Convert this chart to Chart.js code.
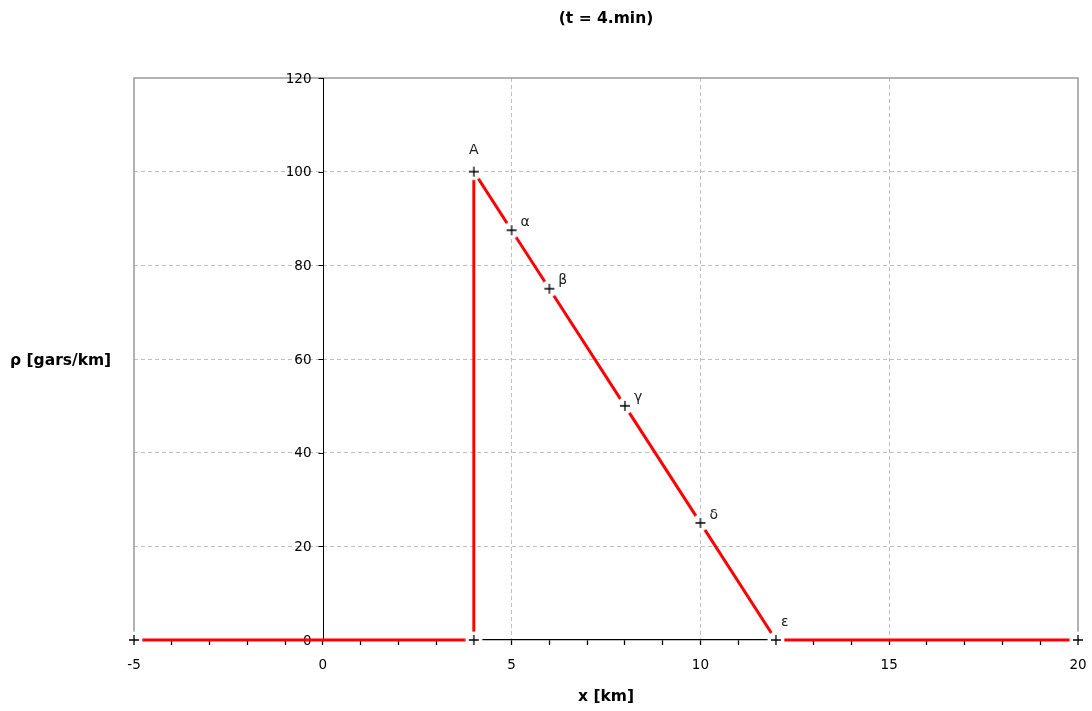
<!DOCTYPE html>
<html>
<head>
<meta charset="utf-8">
<script src="https://cdn.jsdelivr.net/npm/chart.js@4/dist/chart.umd.min.js"></script>
<style>
  html, body { margin: 0; padding: 0; background: #fff; }
  #wrap { width: 1092px; height: 711px; }
</style>
</head>
<body>
<div id="wrap"><canvas id="myChart"></canvas></div>
<script>
// perfil de densidad a t = 4 min
const puntosX = [-5, 4, 4, 5, 6, 8, 10, 12, 20];
const puntosRho = [0, 0, 100, 87.5, 75, 50, 25, 0, 0];
const etiquetas = ['', '', 'A', 'α', 'β', 'γ', 'δ', 'ε', ''];
const ticksY = [0, 20, 40, 60, 80, 100, 120];
const titulo = '(t = 4.min)';
const tituloX = 'x [km]';
const tituloY = 'ρ [gars/km]';

const fuente = 'DejaVu Sans';

// marcador "+" con un disco blanco que corta la línea roja
const marcador = document.createElement('canvas');
marcador.width = 22;
marcador.height = 22;
const mctx = marcador.getContext('2d');
mctx.fillStyle = '#fff';
mctx.beginPath();
mctx.arc(11, 11, 8.5, 0, Math.PI * 2);
mctx.fill();
mctx.strokeStyle = '#000';
mctx.lineWidth = 1.3;
mctx.beginPath();
mctx.moveTo(6, 11); mctx.lineTo(16, 11);
mctx.moveTo(11, 6); mctx.lineTo(11, 16);
mctx.stroke();

const datos = puntosX.map((x, i) => ({x: x, y: puntosRho[i]}));

// marco, eje y en x=0 y textos
const extras = {
    id: 'extras',
    beforeDatasetsDraw(chart) {
        const {ctx, chartArea: a, scales: {x, y}} = chart;
        ctx.save();
        ctx.strokeStyle = '#9a9a9a';
        ctx.lineWidth = 1.5;
        ctx.beginPath();
        ctx.moveTo(a.left, a.bottom);
        ctx.lineTo(a.left, a.top);
        ctx.lineTo(a.right, a.top);
        ctx.lineTo(a.right, a.bottom);
        ctx.stroke();

        const x0 = Math.round(x.getPixelForValue(0)) + 0.5;
        ctx.strokeStyle = '#000';
        ctx.lineWidth = 1;
        ctx.beginPath();
        ctx.moveTo(x0, a.top);
        ctx.lineTo(x0, a.bottom);
        ticksY.forEach(v => {
            const py = Math.round(y.getPixelForValue(v)) + 0.5;
            ctx.moveTo(x0 - 5, py);
            ctx.lineTo(x0, py);
        });
        ctx.stroke();

        ctx.fillStyle = '#000';
        ctx.font = `13.5px "${fuente}"`;
        ctx.textAlign = 'right';
        ctx.textBaseline = 'middle';
        ticksY.forEach(v => {
            ctx.fillText(String(v), x0 - 12, y.getPixelForValue(v) + 1);
        });
        ctx.restore();
    },
    afterDraw(chart) {
        const {ctx, chartArea: a} = chart;
        const meta = chart.getDatasetMeta(0);
        ctx.save();
        ctx.fillStyle = '#000';
        ctx.font = `bold 15.5px "${fuente}"`;
        ctx.textAlign = 'center';
        ctx.textBaseline = 'middle';
        const cx = (a.left + a.right) / 2;
        ctx.fillText(titulo, cx, 19);
        ctx.fillText(tituloX, cx, 697);
        ctx.textAlign = 'left';
        ctx.fillText(tituloY, 10, (a.top + a.bottom) / 2 + 2);

        ctx.font = `14px "${fuente}"`;
        ctx.fillStyle = '#222';
        meta.data.forEach((p, i) => {
            const t = etiquetas[i];
            if (!t) return;
            if (t === 'A') {
                ctx.textAlign = 'center';
                ctx.fillText(t, p.x, p.y - 21);
            } else if (t === 'ε') {
                ctx.textAlign = 'left';
                ctx.fillText(t, p.x + 5, p.y - 18);
            } else {
                ctx.textAlign = 'left';
                ctx.fillText(t, p.x + 9, p.y - 8);
            }
        });
        ctx.restore();
    }
};

const chart = new Chart(document.getElementById('myChart'), {
    type: 'scatter',
    data: {
        datasets: [{
            data: datos,
            showLine: true,
            borderColor: '#ff0000',
            borderWidth: 3,
            pointStyle: marcador,
            pointRadius: 7,
            pointHoverRadius: 7,
            clip: false,
            tension: 0
        }]
    },
    options: {
        responsive: true,
        maintainAspectRatio: false,
        animation: false,
        events: [],
        layout: {padding: {top: 78, left: 134, right: 14, bottom: 31}},
        plugins: {
            legend: {display: false},
            title: {display: false},
            tooltip: {enabled: false}
        },
        scales: {
            x: {
                type: 'linear',
                min: -5,
                max: 20,
                afterFit: s => {
                    s.height = 40;
                    s.paddingLeft = 0;
                    s.paddingRight = 0;
                },
                ticks: {
                    stepSize: 1,
                    autoSkip: false,
                    maxRotation: 0,
                    padding: 12,
                    color: '#000',
                    font: {family: fuente, size: 13.5},
                    callback: v => (v % 5 === 0 ? String(v) : '')
                },
                grid: {
                    color: c => {
                        const v = c.tick ? c.tick.value : null;
                        return (v !== null && v % 5 === 0 && v > -5 && v < 20 && v !== 0) ? '#c0c0c0' : 'rgba(0,0,0,0)';
                    },
                    tickColor: '#000',
                    tickLength: 5,
                    tickWidth: 1.3,
                    lineWidth: 1
                },
                border: {display: true, color: '#000', width: 1.3, dash: [4, 3]}
            },
            y: {
                type: 'linear',
                min: 0,
                max: 120,
                afterFit: s => { s.width = 0; },
                ticks: {display: false, stepSize: 20},
                grid: {
                    drawTicks: false,
                    color: c => {
                        const v = c.tick ? c.tick.value : null;
                        return (v !== null && v > 0 && v < 120) ? '#c0c0c0' : 'rgba(0,0,0,0)';
                    },
                    lineWidth: 1
                },
                border: {display: false, dash: [4, 3]}
            }
        }
    },
    plugins: [extras]
});
</script>
</body>
</html>
